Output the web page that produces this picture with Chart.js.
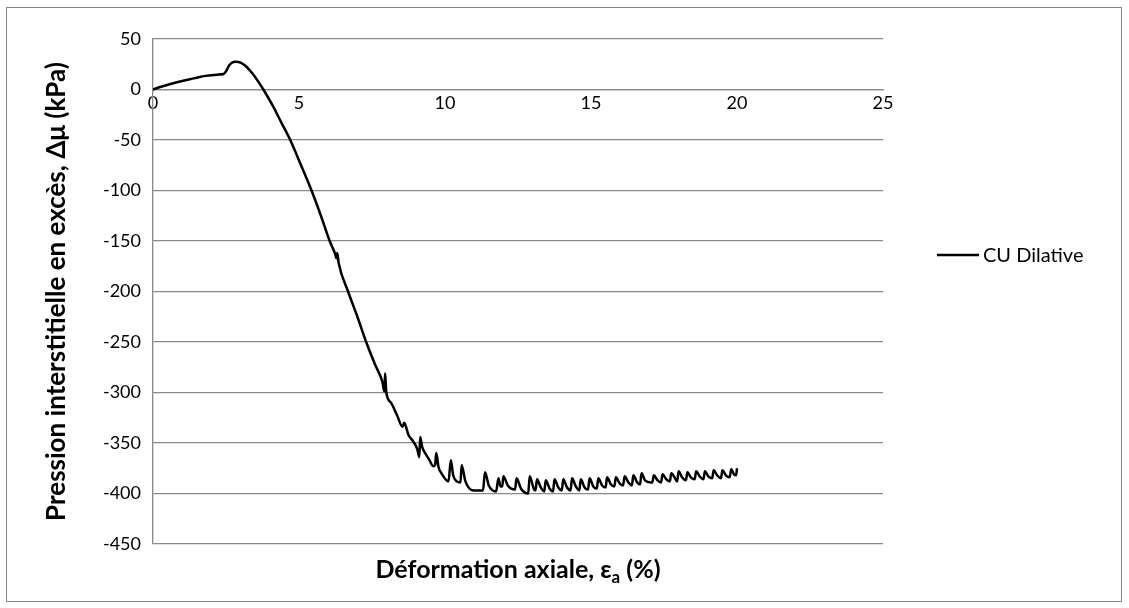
<!DOCTYPE html>
<html>
<head>
<meta charset="utf-8">
<script src="https://cdn.jsdelivr.net/npm/chart.js@4"></script>
<style>
  body{margin:0;background:#fff}
  #wrap{width:1129px;height:608px}
</style>
</head>
<body>
<div id="wrap"><canvas id="chart" width="1129" height="608"></canvas></div>
<script>
/* CU test, dilative sample : excess pore pressure vs axial strain */
const seriesName = "CU Dilative";

const strain = [
  0, 0.3, 0.6, 1.0, 1.4, 1.8, 2.2, 2.42, 2.5, 2.6, 2.7, 2.84, 3.0, 3.2, 3.4, 3.6,
  3.8, 4.1, 4.4, 4.7, 5.07, 5.43, 5.75, 6.05, 6.24, 6.28, 6.31, 6.36, 6.68, 7.0, 7.3, 7.6, 7.86, 7.92, 7.95, 7.99,
  8.15, 8.35, 8.55, 8.6, 8.75, 8.9, 9.05, 9.12, 9.15, 9.22, 9.32, 9.45, 9.6, 9.66, 9.7, 9.78, 9.88,
  10.12, 10.2, 10.28, 10.4, 10.53, 10.57, 10.7, 10.97, 11.3, 11.37, 11.5, 11.75, 11.83, 11.9, 11.96, 12.0, 12.15, 12.4, 12.45, 12.6, 12.85, 12.9, 13.05,
  13.1, 13.15, 13.28, 13.4, 13.45, 13.58, 13.7, 13.75, 13.88, 14.0, 14.05, 14.18,
  14.3, 14.35, 14.48, 14.6, 14.65, 14.78, 14.9, 14.95, 15.08, 15.2, 15.25, 15.38,
  15.5, 15.55, 15.68, 15.8, 15.85, 15.98, 16.1, 16.15, 16.28, 16.4, 16.45, 16.58,
  16.68, 16.73, 16.85, 17.05, 17.1, 17.15, 17.28, 17.4, 17.45, 17.58, 17.7, 17.75, 17.88,
  17.95, 18.0, 18.12, 18.25, 18.3, 18.42, 18.55, 18.6, 18.72, 18.85, 18.9, 19.02,
  19.15, 19.2, 19.32, 19.45, 19.5, 19.62, 19.75, 19.8, 19.9, 19.97, 20.0
];

const pressure = [
  0, 3, 5.5, 8.5, 11, 13.5, 14.7, 15.3, 18, 23.5, 26.5, 27.5, 26.5, 22.5, 16, 8,
  -1, -16, -33, -50, -75, -100, -125, -150, -163, -167, -162, -172, -200, -225, -250, -272, -290, -299, -281, -300,
  -310, -322, -334, -330, -342, -348, -356, -364, -344, -354, -360, -366, -373, -372, -360, -374, -380,
  -388, -367, -382, -388, -389, -372, -388, -397, -397, -379, -392, -398, -385, -393, -393, -383, -392, -396, -385, -395, -400, -383, -396,
  -397, -386, -394, -398, -387, -395, -398, -386, -394, -397, -386, -394,
  -397, -385, -393, -397, -386, -394, -396, -385, -393, -395, -385, -392,
  -394, -384, -391, -393, -384, -390, -392, -383, -389, -392, -382, -389,
  -391, -380, -387, -389, -389, -382, -387, -389, -381, -386, -388, -380, -385,
  -388, -378, -384, -387, -379, -384, -386, -378, -383, -386, -378, -383,
  -385, -377, -382, -385, -377, -382, -384, -376, -381, -382, -375
];

const xTicks = [0, 5, 10, 15, 20, 25];
const yTicks = [50, 0, -50, -100, -150, -200, -250, -300, -350, -400, -450];

const xTitle = ["Déformation axiale, ε", "a", " (%)"];
const yTitle = "Pression interstitielle en excès, Δμ (kPa)";

const gridGray = "#898989";
const fontFamily = "Lato, 'Open Sans', sans-serif";

const points = strain.map((x, i) => ({x: x, y: pressure[i]}));

/* white page, outer frame, x title with subscript, legend */
const decorations = {
  id: "decorations",
  beforeDraw(chart){
    const c = chart.ctx;
    c.save();
    c.fillStyle = "#fff";
    c.fillRect(0, 0, chart.width, chart.height);
    c.strokeStyle = "#888";
    c.lineWidth = 1;
    c.strokeRect(6.5, 7.5, 1115, 594);
    c.restore();
  },
  afterDraw(chart){
    const c = chart.ctx;
    const area = chart.chartArea;
    c.save();
    c.fillStyle = "#000";
    c.textBaseline = "alphabetic";

    // x axis title
    const big = "bold 25px " + fontFamily;
    const small = "bold 17px " + fontFamily;
    c.font = big;
    const w1 = c.measureText(xTitle[0]).width;
    const w3 = c.measureText(xTitle[2]).width;
    c.font = small;
    const w2 = c.measureText(xTitle[1]).width;
    let x = (area.left + area.right) / 2 - (w1 + w2 + w3) / 2;
    const base = 578;
    c.font = big;
    c.fillText(xTitle[0], x, base);
    x += w1;
    c.font = small;
    c.fillText(xTitle[1], x, base + 5);
    x += w2;
    c.font = big;
    c.fillText(xTitle[2], x, base);

    // legend
    c.strokeStyle = "#000";
    c.lineWidth = 2.5;
    c.beginPath();
    c.moveTo(937, 255);
    c.lineTo(979, 255);
    c.stroke();
    c.font = "20px " + fontFamily;
    c.textBaseline = "middle";
    c.fillText(seriesName, 983, 256);
    c.restore();
  }
};

new Chart(document.getElementById("chart"), {
  type: "scatter",
  data: {
    datasets: [{
      label: seriesName,
      data: points,
      showLine: true,
      borderColor: "#000",
      borderWidth: 2.5,
      pointRadius: 0,
      cubicInterpolationMode: "monotone"
    }]
  },
  options: {
    responsive: false,
    animation: false,
    devicePixelRatio: 1,
    layout: {padding: {left: 0, top: 39, right: 246, bottom: 64}},
    plugins: {
      legend: {display: false},
      tooltip: {enabled: false}
    },
    scales: {
      x: {
        type: "linear",
        position: {y: 0},
        min: 0,
        max: 25,
        afterBuildTicks: s => { s.ticks = xTicks.map(v => ({value: v})); },
        grid: {display: false, drawTicks: false},
        border: {display: true, color: gridGray, width: 1.3},
        ticks: {
          padding: 3,
          color: "#000",
          maxRotation: 0,
          font: {family: fontFamily, size: 18}
        }
      },
      y: {
        type: "linear",
        min: -450,
        max: 50,
        afterBuildTicks: s => { s.ticks = yTicks.map(v => ({value: v})); },
        afterFit: s => { s.width = 153; },
        grid: {color: gridGray, lineWidth: 1.3, drawTicks: false},
        border: {display: true, color: gridGray, width: 1.3},
        ticks: {
          padding: 12,
          color: "#000",
          font: {family: fontFamily, size: 18}
        },
        title: {
          display: true,
          text: yTitle,
          color: "#000",
          padding: {top: 41, bottom: 0},
          font: {family: fontFamily, size: 26, weight: "bold"}
        }
      }
    }
  },
  plugins: [decorations]
});
</script>
</body>
</html>
